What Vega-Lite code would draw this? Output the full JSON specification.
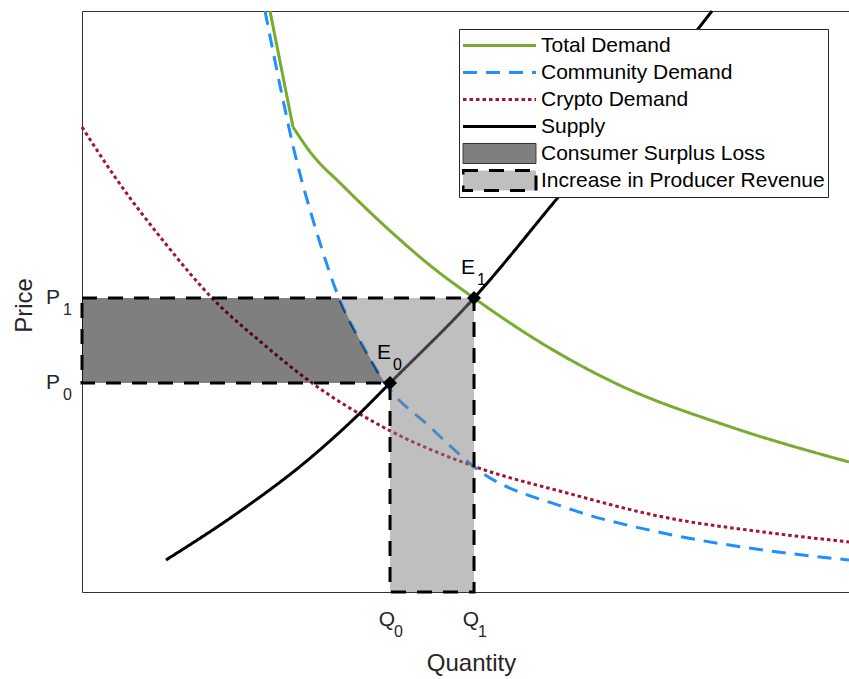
{
  "$schema": "https://vega.github.io/schema/vega-lite/v6.json",
  "width": 767,
  "height": 581,
  "autosize": {"type": "none"},
  "padding": {"left": 82, "top": 11, "right": 0, "bottom": 87},
  "background": "white",
  "config": {
    "font": "Liberation Sans",
    "view": {"stroke": "#333333", "strokeWidth": 1}
  },
  "datasets": {
    "curves": [
      {"series": "Total Demand", "seg": "a", "i": 0, "q": 24.51, "p": 100},
      {"series": "Total Demand", "seg": "a", "i": 1, "q": 27.51, "p": 80.03},
      {"series": "Total Demand", "seg": "b", "i": 1, "q": 27.51, "p": 80.03},
      {"series": "Total Demand", "seg": "b", "i": 2, "q": 29.85, "p": 75.56},
      {"series": "Total Demand", "seg": "b", "i": 3, "q": 33.95, "p": 70.0},
      {"series": "Total Demand", "seg": "b", "i": 4, "q": 40.04, "p": 62.31},
      {"series": "Total Demand", "seg": "b", "i": 5, "q": 45.58, "p": 56.0},
      {"series": "Total Demand", "seg": "b", "i": 6, "q": 51.11, "p": 50.6},
      {"series": "Total Demand", "seg": "b", "i": 7, "q": 60.1, "p": 42.69},
      {"series": "Total Demand", "seg": "b", "i": 8, "q": 69.49, "p": 35.97},
      {"series": "Total Demand", "seg": "b", "i": 9, "q": 84.6, "p": 28.4},
      {"series": "Total Demand", "seg": "b", "i": 10, "q": 100, "p": 22.38},
      {"series": "Community Demand", "seg": "a", "i": 0, "q": 23.86, "p": 100},
      {"series": "Community Demand", "seg": "a", "i": 1, "q": 26.21, "p": 84.68},
      {"series": "Community Demand", "seg": "a", "i": 2, "q": 27.64, "p": 76.08},
      {"series": "Community Demand", "seg": "a", "i": 3, "q": 30.51, "p": 62.31},
      {"series": "Community Demand", "seg": "a", "i": 4, "q": 33.51, "p": 50.6},
      {"series": "Community Demand", "seg": "a", "i": 5, "q": 36.51, "p": 42.69},
      {"series": "Community Demand", "seg": "a", "i": 6, "q": 39.5, "p": 35.97},
      {"series": "Community Demand", "seg": "a", "i": 7, "q": 45.37, "p": 28.4},
      {"series": "Community Demand", "seg": "a", "i": 8, "q": 49.02, "p": 23.92},
      {"series": "Community Demand", "seg": "a", "i": 9, "q": 50.98, "p": 21.69},
      {"series": "Community Demand", "seg": "a", "i": 10, "q": 63.23, "p": 14.46},
      {"series": "Community Demand", "seg": "a", "i": 11, "q": 75.75, "p": 10.15},
      {"series": "Community Demand", "seg": "a", "i": 12, "q": 88.79, "p": 7.23},
      {"series": "Community Demand", "seg": "a", "i": 13, "q": 100, "p": 5.51},
      {"series": "Crypto Demand", "seg": "a", "i": 0, "q": 0, "p": 80.03},
      {"series": "Crypto Demand", "seg": "a", "i": 1, "q": 4.3, "p": 71.43},
      {"series": "Crypto Demand", "seg": "a", "i": 2, "q": 10.82, "p": 60.07},
      {"series": "Crypto Demand", "seg": "a", "i": 3, "q": 16.95, "p": 50.6},
      {"series": "Crypto Demand", "seg": "a", "i": 4, "q": 23.47, "p": 42.86},
      {"series": "Crypto Demand", "seg": "a", "i": 5, "q": 29.99, "p": 35.97},
      {"series": "Crypto Demand", "seg": "a", "i": 6, "q": 39.24, "p": 28.4},
      {"series": "Crypto Demand", "seg": "a", "i": 7, "q": 50.98, "p": 21.69},
      {"series": "Crypto Demand", "seg": "a", "i": 8, "q": 63.23, "p": 17.04},
      {"series": "Crypto Demand", "seg": "a", "i": 9, "q": 75.75, "p": 12.91},
      {"series": "Crypto Demand", "seg": "a", "i": 10, "q": 88.79, "p": 10.33},
      {"series": "Crypto Demand", "seg": "a", "i": 11, "q": 100, "p": 8.61},
      {"series": "Supply", "seg": "a", "i": 0, "q": 10.95, "p": 5.51},
      {"series": "Supply", "seg": "a", "i": 1, "q": 20.6, "p": 13.9},
      {"series": "Supply", "seg": "a", "i": 2, "q": 29.34, "p": 22.6},
      {"series": "Supply", "seg": "a", "i": 3, "q": 35.85, "p": 30.29},
      {"series": "Supply", "seg": "a", "i": 4, "q": 40.16, "p": 35.97},
      {"series": "Supply", "seg": "a", "i": 5, "q": 51.11, "p": 50.6},
      {"series": "Supply", "seg": "a", "i": 6, "q": 62.32, "p": 68.33},
      {"series": "Supply", "seg": "a", "i": 7, "q": 80.31, "p": 96.9},
      {"series": "Supply", "seg": "a", "i": 8, "q": 82.14, "p": 100}
    ],
    "regions": [
      {"series": "Consumer Surplus Loss", "q": 0, "p": 35.97, "p2": 50.6},
      {"series": "Consumer Surplus Loss", "q": 33.51, "p": 35.97, "p2": 50.6},
      {"series": "Consumer Surplus Loss", "q": 34.9, "p": 35.97, "p2": 46.8},
      {"series": "Consumer Surplus Loss", "q": 36.51, "p": 35.97, "p2": 42.69},
      {"series": "Consumer Surplus Loss", "q": 39.5, "p": 35.97, "p2": 35.97},
      {"series": "Increase in Producer Revenue", "q": 33.51, "p": 50.6, "p2": 50.6},
      {"series": "Increase in Producer Revenue", "q": 34.9, "p": 46.8, "p2": 50.6},
      {"series": "Increase in Producer Revenue", "q": 36.51, "p": 42.69, "p2": 50.6},
      {"series": "Increase in Producer Revenue", "q": 39.5, "p": 35.97, "p2": 50.6},
      {"series": "Increase in Producer Revenue", "q": 40.16, "p": 35.97, "p2": 50.6},
      {"series": "Increase in Producer Revenue", "q": 40.16, "p": 0, "p2": 50.6},
      {"series": "Increase in Producer Revenue", "q": 51.11, "p": 0, "p2": 50.6}
    ],
    "outline": [
      {"series": "Increase in Producer Revenue", "i": 0, "q": 0, "p": 50.6},
      {"series": "Increase in Producer Revenue", "i": 1, "q": 51.11, "p": 50.6},
      {"series": "Increase in Producer Revenue", "i": 2, "q": 51.11, "p": 0},
      {"series": "Increase in Producer Revenue", "i": 3, "q": 40.16, "p": 0},
      {"series": "Increase in Producer Revenue", "i": 4, "q": 40.16, "p": 35.97},
      {"series": "Increase in Producer Revenue", "i": 5, "q": 0, "p": 35.97},
      {"series": "Increase in Producer Revenue", "i": 6, "q": 0, "p": 50.6}
    ],
    "eq": [
      {"q": 40.16, "p": 35.97, "name": "E", "sub": "0"},
      {"q": 51.11, "p": 50.6, "name": "E", "sub": "1"}
    ],
    "qticks": [
      {"q": 40.16, "name": "Q", "sub": "0"},
      {"q": 51.11, "name": "Q", "sub": "1"}
    ],
    "pticks": [
      {"p": 35.97, "name": "P", "sub": "0"},
      {"p": 50.6, "name": "P", "sub": "1"}
    ]
  },
  "layer": [
    {
      "data": {"name": "curves"},
      "mark": {"type": "line", "strokeWidth": 3, "strokeCap": "butt", "interpolate": "monotone"},
      "encoding": {
        "x": {
          "field": "q", "type": "quantitative", "title": "Quantity",
          "scale": {"domain": [0, 100], "nice": false, "zero": false},
          "axis": {
            "title": "Quantity", "domain": false, "ticks": false, "labels": false, "grid": false,
            "titleFont": "Liberation Sans", "titleFontSize": 24, "titleFontWeight": "normal", "titleColor": "#262626",
            "titleX": 389, "titleY": 78, "titleAlign": "center", "titleBaseline": "alphabetic"
          }
        },
        "y": {
          "field": "p", "type": "quantitative", "title": "Price",
          "scale": {"domain": [0, 100], "nice": false, "zero": false},
          "axis": {
            "title": "Price", "domain": false, "ticks": false, "labels": false, "grid": false,
            "titleFont": "Liberation Sans", "titleFontSize": 24, "titleFontWeight": "normal", "titleColor": "#262626",
            "titleX": -58, "titleY": 294, "titleAngle": 270, "titleAlign": "center", "titleBaseline": "middle"
          }
        },
        "stroke": {
          "field": "series", "type": "nominal",
          "scale": {
            "domain": ["Total Demand", "Community Demand", "Crypto Demand", "Supply", "Consumer Surplus Loss", "Increase in Producer Revenue"],
            "range": ["#77AC30", "#1E90FF", "#A2142F", "#000000", "#333333", "#000000"]
          },
          "legend": {
            "orient": "none", "legendX": 377, "legendY": 18, "title": null,
            "padding": 3, "strokeColor": "#262626", "fillColor": "white", "cornerRadius": 0,
            "clipHeight": 27, "rowPadding": 0,
            "symbolType": "stroke", "symbolSize": 5329, "symbolStrokeWidth": 3,
            "symbolOffset": 27,
            "labelFont": "Liberation Sans", "labelFontSize": 21, "labelColor": "#000000", "labelOffset": 31, "labelLimit": 500,
            "labelExpr": "datum.label + '\u00a0\u00a0'",
            "encode": {
              "symbols": {
                "update": {
                  "shape": {"signal": "(datum.value == 'Consumer Surplus Loss' || datum.value == 'Increase in Producer Revenue') ? 'M-1,-0.274H1V0.274H-1Z' : 'stroke'"},
                  "fill": {"signal": "datum.value == 'Consumer Surplus Loss' ? '#000000' : (datum.value == 'Increase in Producer Revenue' ? '#808080' : 'transparent')"},
                  "fillOpacity": {"value": 0.5},
                  "stroke": {"signal": "datum.value == 'Consumer Surplus Loss' ? '#404040' : scale('stroke', datum.value)"},
                  "strokeDash": {"signal": "datum.value == 'Community Demand' ? [14, 9] : (datum.value == 'Crypto Demand' ? [3.5, 3] : (datum.value == 'Increase in Producer Revenue' ? [15, 11] : [1, 0]))"},
                  "strokeWidth": {"signal": "datum.value == 'Consumer Surplus Loss' ? 1 : 3"},
                  "opacity": {"value": 1}
                }
              }
            }
          }
        },
        "strokeDash": {
          "field": "series", "type": "nominal",
          "scale": {
            "domain": ["Total Demand", "Community Demand", "Crypto Demand", "Supply", "Consumer Surplus Loss", "Increase in Producer Revenue"],
            "range": [[1, 0], [14, 9], [3.5, 3], [1, 0], [1, 0], [15, 11]]
          },
          "legend": null
        },
        "detail": {"field": "seg", "type": "nominal"},
        "order": {"field": "i", "type": "quantitative"}
      }
    },
    {
      "data": {"name": "regions"},
      "mark": {"type": "area", "fillOpacity": 0.5},
      "encoding": {
        "x": {"field": "q", "type": "quantitative", "title": "Quantity", "scale": {"domain": [0, 100], "nice": false, "zero": false}},
        "y": {"field": "p", "type": "quantitative", "title": "Price", "stack": null, "scale": {"domain": [0, 100], "nice": false, "zero": false}},
        "y2": {"field": "p2"},
        "fill": {
          "field": "series", "type": "nominal",
          "scale": {
            "domain": ["Total Demand", "Community Demand", "Crypto Demand", "Supply", "Consumer Surplus Loss", "Increase in Producer Revenue"],
            "range": ["transparent", "transparent", "transparent", "transparent", "#000000", "#808080"]
          },
          "legend": null
        }
      }
    },
    {
      "data": {"name": "outline"},
      "mark": {"type": "line", "strokeWidth": 3, "strokeCap": "butt"},
      "encoding": {
        "x": {"field": "q", "type": "quantitative", "title": "Quantity", "scale": {"domain": [0, 100], "nice": false, "zero": false}},
        "y": {"field": "p", "type": "quantitative", "title": "Price", "scale": {"domain": [0, 100], "nice": false, "zero": false}},
        "stroke": {"field": "series", "type": "nominal"},
        "strokeDash": {"field": "series", "type": "nominal", "legend": null},
        "order": {"field": "i", "type": "quantitative"}
      }
    },
    {
      "data": {"name": "eq"},
      "mark": {"type": "point", "shape": "diamond", "filled": true, "color": "#000000", "size": 196, "opacity": 1},
      "encoding": {
        "x": {"field": "q", "type": "quantitative", "title": "Quantity"},
        "y": {"field": "p", "type": "quantitative", "title": "Price"}
      }
    },
    {
      "data": {"name": "eq"},
      "mark": {"type": "text", "align": "right", "baseline": "alphabetic", "dx": 1, "dy": -24, "fontSize": 21, "color": "#000000"},
      "encoding": {
        "x": {"field": "q", "type": "quantitative", "title": "Quantity"},
        "y": {"field": "p", "type": "quantitative", "title": "Price"},
        "text": {"field": "name"}
      }
    },
    {
      "data": {"name": "eq"},
      "mark": {"type": "text", "align": "left", "baseline": "alphabetic", "dx": 3, "dy": -13, "fontSize": 16, "color": "#000000"},
      "encoding": {
        "x": {"field": "q", "type": "quantitative", "title": "Quantity"},
        "y": {"field": "p", "type": "quantitative", "title": "Price"},
        "text": {"field": "sub"}
      }
    },
    {
      "data": {"name": "qticks"},
      "mark": {"type": "text", "align": "right", "baseline": "alphabetic", "dx": 5, "dy": 34, "fontSize": 21, "color": "#262626"},
      "encoding": {
        "x": {"field": "q", "type": "quantitative", "title": "Quantity"},
        "y": {"datum": 0},
        "text": {"field": "name"}
      }
    },
    {
      "data": {"name": "qticks"},
      "mark": {"type": "text", "align": "left", "baseline": "alphabetic", "dx": 4, "dy": 45, "fontSize": 16, "color": "#262626"},
      "encoding": {
        "x": {"field": "q", "type": "quantitative", "title": "Quantity"},
        "y": {"datum": 0},
        "text": {"field": "sub"}
      }
    },
    {
      "data": {"name": "pticks"},
      "mark": {"type": "text", "align": "right", "baseline": "alphabetic", "dx": -22, "dy": 6, "fontSize": 21, "color": "#262626"},
      "encoding": {
        "x": {"datum": 0},
        "y": {"field": "p", "type": "quantitative", "title": "Price"},
        "text": {"field": "name"}
      }
    },
    {
      "data": {"name": "pticks"},
      "mark": {"type": "text", "align": "left", "baseline": "alphabetic", "dx": -19, "dy": 17, "fontSize": 16, "color": "#262626"},
      "encoding": {
        "x": {"datum": 0},
        "y": {"field": "p", "type": "quantitative", "title": "Price"},
        "text": {"field": "sub"}
      }
    }
  ]
}
